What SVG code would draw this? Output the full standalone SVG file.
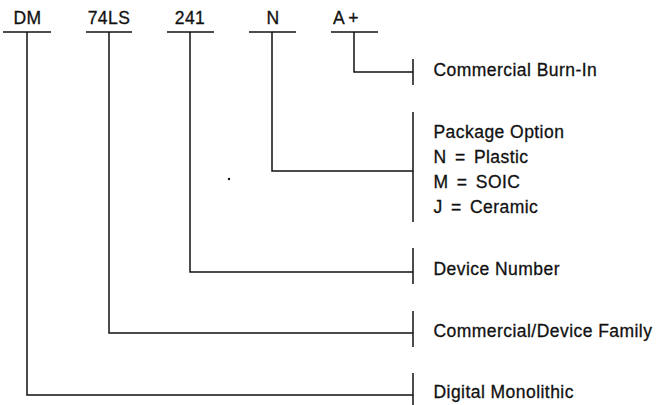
<svg xmlns="http://www.w3.org/2000/svg" width="660" height="405" viewBox="0 0 660 405">
<style>
  .t{font-family:"Liberation Sans",Arial,Helvetica,sans-serif;font-size:17.5px;fill:#111;stroke:#111;stroke-width:0.3px;letter-spacing:0.45px}
  .eq{word-spacing:3px}
  .top{text-anchor:middle}
  .ln{stroke:#111;stroke-width:1.5;fill:none}
</style>
<rect width="660" height="405" fill="#fff"/>
<g id="codes">
  <g id="code-dm"><text class="t top" x="27.5" y="24">DM</text><line class="ln" x1="3" y1="32" x2="51" y2="32"/></g>
  <g id="code-74ls"><text class="t top" x="109" y="24">74LS</text><line class="ln" x1="86" y1="32" x2="132" y2="32"/></g>
  <g id="code-241"><text class="t top" x="190" y="24">241</text><line class="ln" x1="167" y1="32" x2="214" y2="32"/></g>
  <g id="code-n"><text class="t top" x="273" y="24">N</text><line class="ln" x1="249" y1="32" x2="296" y2="32"/></g>
  <g id="code-aplus"><text class="t" x="333" y="24">A<tspan dx="3">+</tspan></text><line class="ln" x1="331" y1="32" x2="378" y2="32"/></g>
</g>
<g id="labels">
  <g id="lbl-burnin"><line class="ln" x1="413" y1="59" x2="413" y2="85"/><text class="t" x="433.5" y="76">Commercial Burn-In</text></g>
  <g id="lbl-package"><line class="ln" x1="413" y1="112" x2="413" y2="222"/>
    <text class="t" x="433.5" y="138">Package Option</text>
    <text class="t eq" x="433.5" y="163">N = Plastic</text>
    <text class="t eq" x="433.5" y="188">M = SOIC</text>
    <text class="t eq" x="433.5" y="213">J = Ceramic</text>
  </g>
  <g id="lbl-device"><line class="ln" x1="413" y1="248" x2="413" y2="284"/><text class="t" x="433.5" y="275">Device Number</text></g>
  <g id="lbl-family"><line class="ln" x1="413" y1="311" x2="413" y2="347"/><text class="t" x="433.5" y="337">Commercial/Device Family</text></g>
  <g id="lbl-digital"><line class="ln" x1="413" y1="373" x2="413" y2="405"/><text class="t" x="433.5" y="398">Digital Monolithic</text></g>
</g>
<g id="connectors">
  <polyline class="ln" points="354,32 354,72 413,72"/>
  <polyline class="ln" points="272,32 272,171 413,171"/>
  <polyline class="ln" points="190,32 190,272 413,272"/>
  <polyline class="ln" points="109,32 109,333 413,333"/>
  <polyline class="ln" points="27,32 27,395 413,395"/>
</g>
<circle cx="229" cy="179" r="1.2" fill="#111"/>
</svg>
